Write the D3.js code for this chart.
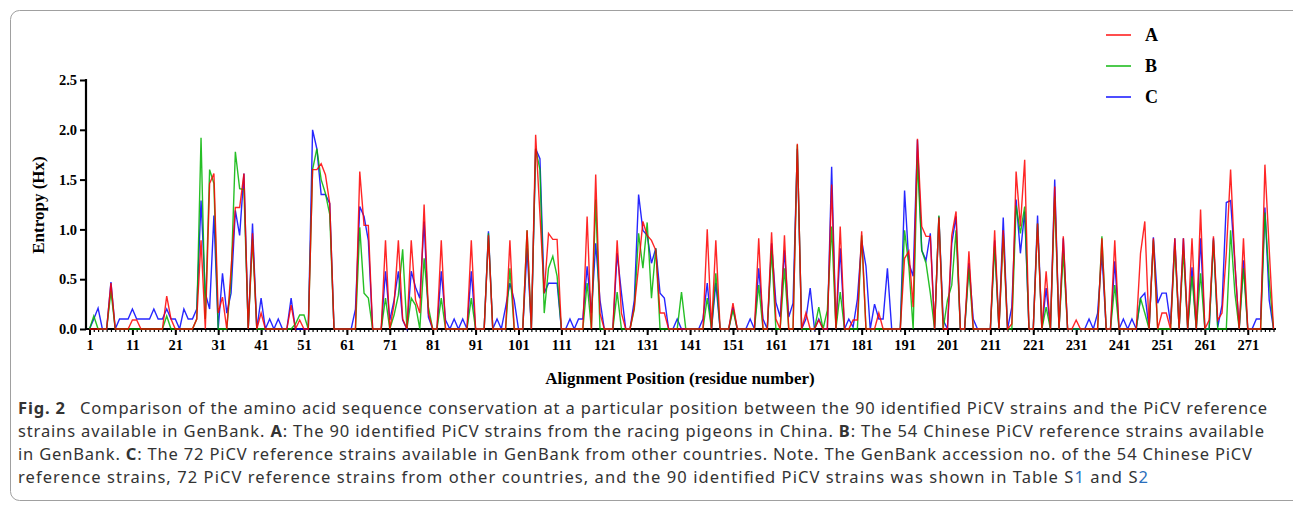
<!DOCTYPE html>
<html>
<head>
<meta charset="utf-8">
<script src="https://cdn.jsdelivr.net/npm/d3@7/dist/d3.min.js"></script>
<style>
  body { margin: 0; background: #fff; }
  svg { display: block; }
</style>
</head>
<body>
<svg id="chart" width="1293" height="506"></svg>
<script>
// ---------- DATA ----------
const positions = d3.range(1, 278); // alignment positions 1..277
const xTickLabels = [1, 11, 21, 31, 41, 51, 61, 71, 81, 91, 101, 111, 121, 131, 141, 151, 161, 171, 181, 191, 201, 211, 221, 231, 241, 251, 261, 271];
const yTickLabels = [0.0, 0.5, 1.0, 1.5, 2.0, 2.5];
const seriesNames = ["A", "B", "C"];
const seriesColors = ["#ff0000", "#00b400", "#0000ff"];

const seriesA = [
0,0,0,0,0,0.46,0,0,0,0,
0.09,0.09,0,0,0,0,0,0,0.33,0.1,
0,0,0,0,0,0.1,0.89,0,1.46,1.56,
0.16,0.32,0,0.6,1.22,1.22,1.56,0,0.96,0,
0.16,0,0,0,0,0,0,0.24,0,0.09,
0,0,1.6,1.6,1.66,1.55,1.26,0,0,0,
0,0,0,1.58,1.04,1.04,0,0,0,0.89,
0,0.25,0.89,0.1,0,0.89,0.29,0.16,1.25,0.16,
0,0,0.89,0,0,0,0,0,0,0.89,
0,0,0,0.94,0,0,0,0,0.89,0,
0,0,0.99,0,1.95,1.15,0.36,0.96,0.9,0.9,
0,0,0,0,0,0,1.13,0,1.55,0.16,
0,0,0,0.89,0.16,0,0,0.22,0.63,1.08,
0.94,0.89,0.79,0.16,0.16,0,0,0,0,0,
0,0,0,0,1.0,0,0.89,0,0,0,
0.26,0,0,0,0,0,0.91,0,0,0.97,
0.1,0,0.94,0,0,1.86,0,0.16,0,0,
0.09,0,0,1.45,0,1.03,0,0,0.09,0.09,
0.98,0,0,0,0.16,0,0,0,0,0,
0.71,0.78,0.22,1.91,1.03,0.93,0.93,0,1.12,0,
0,0.94,1.18,0,0,0.78,0,0,0,0,
0,0.99,0,0.99,0,0.05,1.58,1.03,1.7,0,
0,1.06,0,0.58,0,1.43,0,0.93,0,0,
0.09,0,0,0,0,0,0.91,0,0,0.89,
0,0,0,0,0,0.76,1.08,0,0.91,0,
0.16,0.16,0,0.91,0,0.91,0,0.91,0,1.2,
0,0.09,0.93,0.09,0.16,0.76,1.6,0.66,0,0.91,
0,0,0,0,1.65,0.8,0
];

const seriesB = [
0,0.13,0,0,0,0.38,0,0,0,0,
0,0,0,0,0,0,0,0,0.13,0,
0,0,0,0,0,0.1,1.92,0.1,1.6,1.46,
0,0,0,0.5,1.78,1.41,1.4,0,0.9,0,
0,0,0,0,0,0,0,0,0.05,0.14,
0.14,0,1.6,1.81,1.5,1.36,1.15,0,0,0,
0,0,0,1.02,0.36,0.31,0,0,0,0.31,
0,0.14,0.34,0.8,0,0.31,0.24,0,0.71,0.22,
0,0,0.31,0,0,0,0,0,0,0.31,
0,0,0,0.96,0,0,0,0,0.61,0,
0,0,0.99,0,1.81,1.6,0.16,0.61,0.73,0.53,
0,0,0,0,0,0,0.46,0,1.3,0,
0,0,0,0.37,0,0,0,0.2,0.96,0.61,
1.07,0.31,0.81,0,0,0,0,0,0.37,0,
0,0,0,0,0.31,0,0.56,0,0,0,
0.19,0,0,0,0,0,0.44,0,0,0.79,
0,0,0.61,0,0,1.85,0,0,0,0,
0.22,0,0.19,1.03,0,0.37,0,0,0,0,
0.94,0,0,0,0,0,0,0,0,0,
0.99,0.63,0,1.7,0.79,0.66,0.36,0,1.14,0,
0.29,0.44,0.99,0,0,0.61,0,0,0,0,
0,0.83,0,0.94,0,0,1.24,0.96,1.23,0,
0,1.06,0,0.22,0,1.33,0,0.76,0,0,
0,0,0,0,0,0,0.93,0,0,0.44,
0,0,0,0,0,0.31,0.16,0,0.89,0,
0,0,0,0.83,0,0.79,0,0.53,0,0.56,
0,0,0.89,0,0,0,0.99,0.36,0,0.61,
0,0,0,0,1.17,0.49,0
];

const seriesC = [
0,0.1,0.21,0,0,0.47,0,0.1,0.1,0.1,
0.2,0.1,0.1,0.1,0.1,0.2,0.1,0.1,0.2,0.1,
0.1,0,0.2,0.1,0.1,0.2,1.29,0.36,0.2,1.14,
0,0.56,0.16,0.36,1.19,0.94,1.56,0,1.06,0,
0.31,0,0.1,0,0.1,0,0,0.31,0,0,
0,0,2.0,1.81,1.35,1.35,1.26,0,0,0,
0,0,0.2,1.23,1.13,0.89,0,0,0,0.58,
0.09,0.29,0.58,0.09,0,0.58,0.42,0.31,1.08,0.12,
0,0,0.58,0.09,0,0.1,0,0.1,0,0.58,
0,0,0,0.98,0,0.1,0,0.22,0.46,0.29,
0,0,0.81,0,1.81,1.71,0.36,0.46,0.46,0.46,
0,0,0.1,0,0.1,0.1,0.63,0.16,0.86,0.29,
0,0,0,0.76,0.36,0,0,0.29,1.35,0.99,
0.94,0.66,0.81,0.36,0.31,0,0,0.1,0,0,
0,0,0,0.1,0.46,0,0.46,0,0,0,
0.22,0,0,0,0.1,0,0.61,0.1,0,0.86,
0.27,0.12,0.79,0.12,0.26,1.81,0,0.1,0.41,0,
0.1,0,0,1.63,0,0.81,0,0.1,0.02,0.3,
0.89,0.63,0,0.25,0.1,0.1,0.61,0,0,0,
1.39,0.66,0.53,1.9,0.79,0.69,0.96,0,1.13,0.09,
0,0.86,1.13,0,0,0.66,0.1,0,0,0,
0,0.89,0,1.12,0,0.22,1.3,0.76,1.18,0,
0,1.14,0,0.41,0,1.5,0,0.91,0,0,
0,0,0,0.1,0,0.16,0.76,0,0,0.68,
0,0.1,0,0.1,0,0.31,0.36,0,0.92,0.26,
0.36,0.36,0.05,0.91,0,0.91,0,0.62,0,0.91,
0,0,0.91,0.02,0.24,1.27,1.29,0.66,0,0.69,
0,0,0.1,0.1,1.22,0.29,0
];

const captionLines = [
  [{t:"Fig. 2", b:true}, {t:"\u2002 Comparison of the amino acid sequence conservation at a particular position between the 90 identified PiCV strains and the PiCV reference"}],
  [{t:"strains available in GenBank. "}, {t:"A", b:true}, {t:": The 90 identified PiCV strains from the racing pigeons in China. "}, {t:"B", b:true}, {t:": The 54 Chinese PiCV reference strains available"}],
  [{t:"in GenBank. "}, {t:"C", b:true}, {t:": The 72 PiCV reference strains available in GenBank from other countries. Note. The GenBank accession no. of the 54 Chinese PiCV"}],
  [{t:"reference strains, 72 PiCV reference strains from other countries, and the 90 identified PiCV strains was shown in Table S"}, {t:"1", link:true}, {t:" and S"}, {t:"2", link:true}]
];
const captionLineWidths = [1249, 1246, 1234, 1130];

// ---------- CHART ----------
const svg = d3.select("#chart");
const serif = "'Liberation Serif', 'Times New Roman', serif";

// frame
svg.append("rect")
  .attr("x", 10.5).attr("y", 10.5)
  .attr("width", 1300).attr("height", 490)
  .attr("rx", 9)
  .attr("fill", "none").attr("stroke", "#a0a0a0").attr("stroke-width", 1);

const x = d3.scaleLinear().domain([1, 277]).range([89.5, 1273.5]);
const y = d3.scaleLinear().domain([0, 2.5]).range([329, 80]);

const g = svg.append("g");

// minor x ticks
const xMinor = d3.axisBottom(x).tickValues(positions).tickSize(3).tickFormat("");
const gxm = g.append("g").attr("transform", "translate(0,329)").call(xMinor);
gxm.select(".domain").remove();
gxm.selectAll(".tick line").attr("stroke", "#000").attr("stroke-width", 1.2);

// major x ticks + labels
const xAxis = d3.axisBottom(x).tickValues(xTickLabels).tickSize(6).tickPadding(5).tickFormat(d3.format("d"));
const gx = g.append("g").attr("transform", "translate(0,329)").call(xAxis);
gx.select(".domain").remove();
gx.selectAll(".tick line").attr("stroke", "#000").attr("stroke-width", 2);
gx.selectAll(".tick text")
  .attr("font-family", serif).attr("font-weight", "bold").attr("font-size", 14.5).attr("fill", "#000");

// x axis line
g.append("line").attr("x1", 86).attr("x2", 1276).attr("y1", 329).attr("y2", 329)
  .attr("stroke", "#000").attr("stroke-width", 2.2);

// y axis
const yAxis = d3.axisLeft(y).tickValues(yTickLabels).tickSize(6).tickPadding(3).tickFormat(d3.format(".1f"));
const gy = g.append("g").attr("transform", "translate(86,0)").call(yAxis);
gy.select(".domain").attr("stroke", "#000").attr("stroke-width", 2.2).attr("d", "M0,79V330");
gy.selectAll(".tick line").attr("stroke", "#000").attr("stroke-width", 2);
gy.selectAll(".tick text")
  .attr("font-family", serif).attr("font-weight", "bold").attr("font-size", 14.5).attr("fill", "#000");

// axis titles
svg.append("text")
  .attr("transform", "translate(44,205) rotate(-90)")
  .attr("text-anchor", "middle")
  .attr("font-family", serif).attr("font-weight", "bold").attr("font-size", 17)
  .text("Entropy (Hx)");
svg.append("text")
  .attr("x", 680).attr("y", 384)
  .attr("text-anchor", "middle")
  .attr("font-family", serif).attr("font-weight", "bold").attr("font-size", 17)
  .text("Alignment Position (residue number)");

// lines (C bottom, then B, then A on top)
const seriesData = [seriesA, seriesB, seriesC];
const line = d3.line().x((d, i) => x(positions[i])).y(d => y(d));
[2, 1, 0].forEach(k => {
  g.append("path")
    .datum(seriesData[k])
    .attr("d", line)
    .attr("fill", "none")
    .attr("stroke", seriesColors[k])
    .attr("stroke-width", 1.4)
    .attr("stroke-opacity", 0.85)
    .attr("stroke-linejoin", "miter");
});

// legend
const legend = svg.append("g");
seriesNames.forEach((name, i) => {
  const ly = 35 + i * 31;
  legend.append("line").attr("x1", 1106).attr("x2", 1131).attr("y1", ly).attr("y2", ly)
    .attr("stroke", seriesColors[i]).attr("stroke-width", 1.4);
  legend.append("text").attr("x", 1145).attr("y", ly + 6)
    .attr("font-family", serif).attr("font-weight", "bold").attr("font-size", 18)
    .text(name);
});

// caption
const cap = svg.append("g");
captionLines.forEach((parts, i) => {
  const t = cap.append("text")
    .attr("x", 18).attr("y", 414 + i * 23)
    .attr("font-family", "'Noto Sans', 'Open Sans', sans-serif")
    .attr("font-size", 16.5).attr("fill", "#333")
    .attr("textLength", captionLineWidths[i])
    .attr("lengthAdjust", "spacing");
  parts.forEach(p => {
    t.append("tspan")
      .attr("font-weight", p.b ? "bold" : null)
      .attr("fill", p.link ? "#2a6ebb" : null)
      .text(p.t);
  });
});
</script>
</body>
</html>
